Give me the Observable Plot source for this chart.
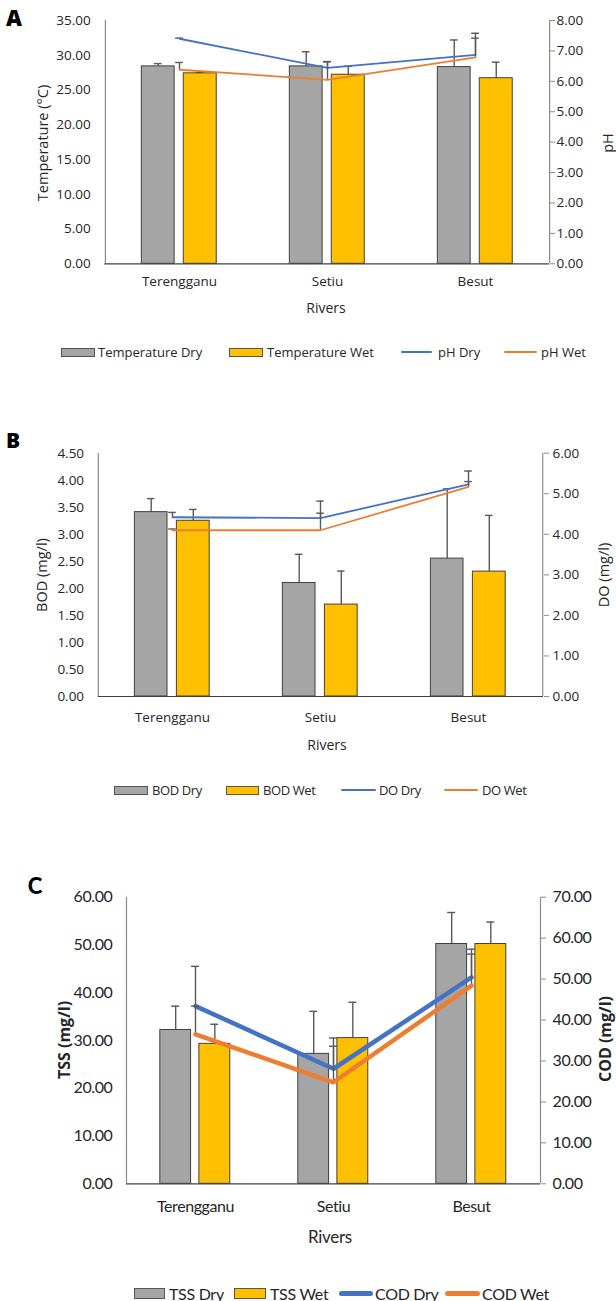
<!DOCTYPE html>
<html><head><meta charset="utf-8">
<script src="https://cdn.jsdelivr.net/npm/d3@7"></script>
<script src="https://cdn.jsdelivr.net/npm/@observablehq/plot@0.6"></script>
<style>
body{margin:0;background:#fff;}
#root{position:relative;width:616px;height:1301px;overflow:hidden;font-family:"Open Sans",sans-serif;color:#262626;}
.plot{position:absolute;left:0;}
.t{position:absolute;transform:translate(-50%,-50%);white-space:nowrap;}
.v{position:absolute;transform:translate(-50%,-50%) rotate(-90deg);white-space:nowrap;}
.lg{position:absolute;transform:translateY(-50%);white-space:nowrap;}
.sw{position:absolute;box-sizing:border-box;border:1px solid #555;}
.ln{position:absolute;}
</style></head><body><div id="root"></div>
<script>
// ---- data ----
const rivers = ["Terengganu", "Setiu", "Besut"];

// Panel A
const tempDry = [28.4, 28.4, 28.3];
const tempDryErr = [0.4, 2.1, 3.9];
const tempWet = [27.4, 27.2, 26.7];
const tempWetErr = [0.1, 1.2, 2.3];
const phDry = [7.40, 6.44, 6.87];
const phDryErr = [0.02, 0.2, 0.55];
const phWet = [6.38, 6.05, 6.79];
const phWetErr = [0.24, 0.6, 0.79];
const tempTicks = [0, 5, 10, 15, 20, 25, 30, 35];
const phTicks = [0, 1, 2, 3, 4, 5, 6, 7, 8];

// Panel B
const bodDry = [3.41, 2.10, 2.55];
const bodDryErr = [0.25, 0.53, 1.29];
const bodWet = [3.25, 1.70, 2.31];
const bodWetErr = [0.21, 0.62, 1.04];
const doDry = [4.42, 4.40, 5.23];
const doDryErr = [0.12, 0.42, 0.33];
const doWet = [4.10, 4.10, 5.17];
const doWetErr = [0.03, 0.42, 0.13];
const bodTicks = [0, 0.5, 1, 1.5, 2, 2.5, 3, 3.5, 4, 4.5];
const doTicks = [0, 1, 2, 3, 4, 5, 6];

// Panel C
const tssDry = [32.2, 27.2, 50.2];
const tssDryErr = [5.0, 8.9, 6.6];
const tssWet = [29.3, 30.5, 50.2];
const tssWetErr = [4.1, 7.5, 4.6];
const codDry = [43.4, 28.1, 50.4];
const codDryErr = [9.7, 7.5, 6.9];
const codWet = [36.5, 24.8, 48.4];
const codWetErr = [6.9, 8.8, 7.7];
const tssTicks = [0, 10, 20, 30, 40, 50, 60];
const codTicks = [0, 10, 20, 30, 40, 50, 60, 70];

const GRAY = "#A5A5A5", YEL = "#FFC000", BLUE = "#4472C4", ORANGE = "#ED7D31";
const ERR = "#595959";

const root = document.getElementById("root");

function rows(vals, errs) { return rivers.map((r, i) => ({river: r, v: vals[i], e: errs[i]})); }

function panel(o) {
  const W = 616;
  const leftMax = o.leftTicks[o.leftTicks.length - 1];
  const rightMax = o.rightTicks[o.rightTicks.length - 1];
  const k = leftMax / rightMax;
  const bw = (W - o.ml - o.mr) / rivers.length;
  const dL = 0.245, dR = 0.468, wL = 0.528, wR = 0.752;
  const cap = 4;
  const dry = rows(o.dry, o.dryErr), wet = rows(o.wet, o.wetErr);
  const lDry = rows(o.lDry, o.lDryErr), lWet = rows(o.lWet, o.lWetErr);
  function barMarks(data, l, r, fill) {
    const c = (l + r) / 2;
    return [
      Plot.ruleX(data, {x: "river", y1: "v", y2: d => d.v + d.e, dx: (c - 0.5) * bw, stroke: ERR, strokeWidth: 1.4}),
      Plot.tickY(data, {x: "river", y: d => d.v + d.e, insetLeft: c * bw - cap, insetRight: (1 - c) * bw - cap, stroke: ERR, strokeWidth: 1.4}),
      Plot.barY(data, {x: "river", y: "v", fill, stroke: "#404040", strokeWidth: 1, insetLeft: l * bw, insetRight: (1 - r) * bw})
    ];
  }
  function lineMarks(data, color) {
    return [
      Plot.ruleX(data, {x: "river", y1: d => d.v * k, y2: d => (d.v + d.e) * k, stroke: ERR, strokeWidth: 1.4}),
      Plot.tickY(data, {x: "river", y: d => (d.v + d.e) * k, insetLeft: 0.5 * bw - cap, insetRight: 0.5 * bw - cap, stroke: ERR, strokeWidth: 1.4}),
      Plot.line(data, {x: "river", y: d => d.v * k, stroke: color, strokeWidth: o.lw})
    ];
  }
  const chart = Plot.plot({
    width: W, height: o.height,
    marginTop: o.mt, marginBottom: o.mb, marginLeft: o.ml, marginRight: o.mr,
    style: {fontFamily: o.font, fontSize: o.fs + "px", color: "#262626", background: "transparent", letterSpacing: (o.ls || 0) + "px"},
    x: {type: "band", domain: rivers, padding: 0},
    y: {domain: [0, leftMax]},
    marks: [
      ...barMarks(wet, wL, wR, YEL),
      ...barMarks(dry, dL, dR, GRAY),
      ...lineMarks(lDry, BLUE),
      ...lineMarks(lWet, ORANGE),
      Plot.ruleX([rivers[0]], {x: d => d, dx: -bw / 2, stroke: "#8c8c8c", strokeWidth: 1.2}),
      Plot.ruleX([rivers[rivers.length - 1]], {x: d => d, dx: bw / 2, stroke: "#8c8c8c", strokeWidth: 1.2}),
      Plot.ruleY([0], {stroke: "#404040", strokeWidth: 1.2}),
      Plot.axisY(o.leftTicks, {anchor: "left", tickSize: 0, tickPadding: o.lpad, tickFormat: d => d.toFixed(2), label: null}),
      Plot.axisY(o.rightTicks.map(v => v * k), {anchor: "right", tickSize: 5, tickPadding: o.rpad, stroke: "#8c8c8c", tickFormat: d => (d / k).toFixed(2), label: null}),
      Plot.axisX({tickSize: 0, tickPadding: o.xpad, label: null})
    ]
  });
  chart.classList.add("plot");
  chart.style.top = o.top + "px";
  root.appendChild(chart);
}

function txt(cls, s, x, y, style) {
  const d = document.createElement("div");
  d.className = cls; d.textContent = s;
  d.style.left = x + "px"; d.style.top = y + "px";
  if (style) Object.assign(d.style, style);
  root.appendChild(d);
}
function sw(x, y, w, h, fill) {
  const d = document.createElement("div");
  d.className = "sw";
  Object.assign(d.style, {left: x + "px", top: (y - h / 2) + "px", width: w + "px", height: h + "px", background: fill});
  root.appendChild(d);
}
function ln(x, y, w, t, color) {
  const d = document.createElement("div");
  d.className = "ln";
  Object.assign(d.style, {left: x + "px", top: (y - t / 2) + "px", width: w + "px", height: t + "px", background: color, borderRadius: (t / 2) + "px"});
  root.appendChild(d);
}

const OS = '"Open Sans", sans-serif';
const NAR = '"Lato", sans-serif';

// Panel A
panel({top: 0, height: 320, mt: 20, mb: 56.7, ml: 104.3, mr: 67, font: OS, fs: 13.5, lpad: 14, rpad: 2, xpad: 13, lw: 1.8,
  leftTicks: tempTicks, rightTicks: phTicks, dry: tempDry, dryErr: tempDryErr, wet: tempWet, wetErr: tempWetErr,
  lDry: phDry, lDryErr: phDryErr, lWet: phWet, lWetErr: phWetErr});
// Panel B
panel({top: 420, height: 340, mt: 32.7, mb: 64, ml: 97.6, mr: 73, font: OS, fs: 13.5, lpad: 14, rpad: 4, xpad: 16, lw: 1.8,
  leftTicks: bodTicks, rightTicks: doTicks, dry: bodDry, dryErr: bodDryErr, wet: bodWet, wetErr: bodWetErr,
  lDry: doDry, lDryErr: doDryErr, lWet: doWet, lWetErr: doWetErr});
// Panel C
panel({top: 860, height: 400, mt: 36.7, mb: 76.7, ml: 126, mr: 76, font: NAR, fs: 16, ls: -0.4, lpad: 14, rpad: 7, xpad: 17, lw: 4.5,
  leftTicks: tssTicks, rightTicks: codTicks, dry: tssDry, dryErr: tssDryErr, wet: tssWet, wetErr: tssWetErr,
  lDry: codDry, lDryErr: codDryErr, lWet: codWet, lWetErr: codWetErr});

// Panel letters
txt("t", "A", 14, 17, {fontSize: "22px", fontWeight: "800", fontFamily: OS, color: "#000"});
txt("t", "B", 13, 440, {fontSize: "21px", fontWeight: "800", fontFamily: OS, color: "#000"});
txt("t", "C", 35, 885, {fontSize: "22px", fontWeight: "900", fontFamily: '"Lato", sans-serif', color: "#000"});

// Axis titles
txt("v", "Temperature (°C)", 42, 143, {fontSize: "14.5px", fontFamily: OS});
txt("v", "pH", 607, 143, {fontSize: "14.5px", fontFamily: OS});
txt("t", "Rivers", 326, 307, {fontSize: "14px", fontFamily: OS});
txt("v", "BOD (mg/l)", 41, 575, {fontSize: "14.5px", fontFamily: OS});
txt("v", "DO (mg/l)", 603, 575, {fontSize: "14.5px", fontFamily: OS});
txt("t", "Rivers", 327, 744, {fontSize: "14px", fontFamily: OS});
txt("v", "TSS (mg/l)", 64, 1040, {fontSize: "16px", fontWeight: "700", fontFamily: OS});
txt("v", "COD (mg/l)", 605, 1039, {fontSize: "16px", fontWeight: "700", fontFamily: OS});
txt("t", "Rivers", 330, 1236, {fontSize: "17px", fontFamily: NAR, letterSpacing: "-0.3px"});

// Legends
const lgA = 352;
sw(61, lgA, 34, 9, GRAY); txt("lg", "Temperature Dry", 98, lgA, {fontSize: "13px", fontFamily: OS});
sw(229, lgA, 34, 9, YEL); txt("lg", "Temperature Wet", 267, lgA, {fontSize: "13px", fontFamily: OS});
ln(401, lgA, 31, 2, BLUE); txt("lg", "pH Dry", 438, lgA, {fontSize: "13px", fontFamily: OS});
ln(504, lgA, 33, 2, ORANGE); txt("lg", "pH Wet", 541, lgA, {fontSize: "13px", fontFamily: OS});

const lgB = 790;
sw(114, lgB, 34, 9, GRAY); txt("lg", "BOD Dry", 152, lgB, {fontSize: "13px", fontFamily: OS, letterSpacing: "-0.4px"});
sw(226, lgB, 33, 9, YEL); txt("lg", "BOD Wet", 263, lgB, {fontSize: "13px", fontFamily: OS, letterSpacing: "-0.4px"});
ln(341, lgB, 35, 2, BLUE); txt("lg", "DO Dry", 379, lgB, {fontSize: "13px", fontFamily: OS, letterSpacing: "-0.4px"});
ln(444, lgB, 34, 2, ORANGE); txt("lg", "DO Wet", 482, lgB, {fontSize: "13px", fontFamily: OS, letterSpacing: "-0.4px"});

const lgC = 1293;
sw(134, lgC, 31, 11, GRAY); txt("lg", "TSS Dry", 169, lgC, {fontSize: "16px", fontFamily: NAR, letterSpacing: "-0.3px"});
sw(234, lgC, 32, 11, YEL); txt("lg", "TSS Wet", 270, lgC, {fontSize: "16px", fontFamily: NAR, letterSpacing: "-0.3px"});
ln(339, lgC, 34, 5, BLUE); txt("lg", "COD Dry", 375, lgC, {fontSize: "16px", fontFamily: NAR, letterSpacing: "-0.3px"});
ln(445, lgC, 35, 5, ORANGE); txt("lg", "COD Wet", 482, lgC, {fontSize: "16px", fontFamily: NAR, letterSpacing: "-0.3px"});
</script>
</body></html>
